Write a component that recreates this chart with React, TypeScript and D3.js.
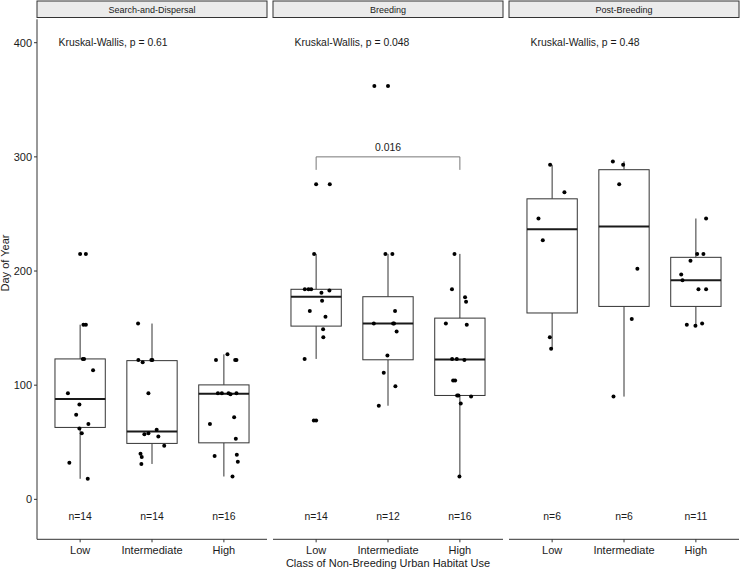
import React from 'react';
import * as d3 from 'd3';

// ---------- data ----------
const facets = ['Search-and-Dispersal', 'Breeding', 'Post-Breeding'];
const classes = ['Low', 'Intermediate', 'High'];
const kwLabels = ['Kruskal-Wallis, p = 0.61', 'Kruskal-Wallis, p = 0.048', 'Kruskal-Wallis, p = 0.48'];
const yTicks = [0, 100, 200, 300, 400];

// Search-and-Dispersal
const sdLow = [215, 153, 153, 123, 123, 113, 93, 83, 74, 66, 62, 58, 32, 18];
const sdLowJit = [0.08, 0.046, 0.08, 0.037, 0.055, 0.18, -0.17, -0.01, -0.055, 0.115, -0.01, 0.023, -0.15, 0.106];
const sdInt = [154, 122, 122, 122, 120, 93, 61, 57, 58, 55, 47, 40, 37, 31];
const sdIntJit = [-0.194, -0.19, -0.009, 0.005, -0.13, -0.05, 0.065, -0.106, -0.05, 0.088, 0.17, -0.16, -0.143, -0.148];
const sdHigh = [122, 127, 122, 122, 93, 93, 93, 92, 93, 72, 66, 53, 38, 39, 33, 20];
const sdHighJit = [-0.11, 0.05, 0.157, 0.175, -0.083, -0.028, 0.065, 0.092, 0.175, 0.143, -0.194, 0.166, -0.129, 0.18, 0.194, 0.12];

// Breeding
const brLow = [276, 215, 184, 184, 184, 183, 181, 174, 165, 160, 149, 142, 123, 69];
const brLowJit = [0.19, -0.028, -0.157, -0.106, -0.069, 0.185, 0.074, 0.083, -0.088, 0.13, 0.097, 0.1, -0.16, -0.032];
const brInt = [362, 215, 215, 165, 154, 154, 154, 147, 126, 111, 99, 82];
const brIntJit = [-0.19, -0.036, 0.061, 0.098, -0.197, 0.071, 0.084, 0.12, -0.008, -0.059, 0.103, -0.128];
const brHigh = [215, 184, 177, 173, 154, 153, 123, 123, 122, 104, 104, 91, 91, 90, 84, 20];
const brHighJit = [-0.075, -0.11, 0.072, 0.086, -0.195, 0.096, -0.108, -0.043, 0.063, -0.094, -0.066, -0.038, -0.02, 0.156, 0.012, -0.006];

// Post-Breeding
const pbLow = [293, 269, 246, 227, 142, 132];
const pbLowJit = [-0.028, 0.171, -0.19, -0.13, -0.032, -0.014];
const pbInt = [296, 293, 276, 202, 158, 90];
const pbIntJit = [-0.155, -0.012, -0.067, 0.186, 0.108, -0.146];
const pbHigh = [246, 215, 215, 209, 197, 192, 184, 184, 153, 152, 154];
const pbHighJit = [0.142, 0.018, 0.105, -0.075, -0.204, -0.186, 0.036, 0.142, -0.126, -0.006, 0.087];

const groupValues = [
  [sdLow, sdInt, sdHigh],
  [brLow, brInt, brHigh],
  [pbLow, pbInt, pbHigh],
];
const groupJitter = [
  [sdLowJit, sdIntJit, sdHighJit],
  [brLowJit, brIntJit, brHighJit],
  [pbLowJit, pbIntJit, pbHighJit],
];

// pairwise comparison (Breeding: Low vs High)
const bracketFacet = 1;
const bracketFrom = 0;
const bracketTo = 2;
const bracketY = 300;
const bracketLabel = '0.016';

// ---------- layout ----------
const W = 740;
const H = 570;
const plotLeft = 37;
const panelW = 230;
const panelStep = 236;
const panelTop = 19.3;
const panelBottom = 539.3;
const FONT = '"Liberation Sans", Arial, Helvetica, sans-serif';
const TXT = '#1a1a1a';

const y = d3.scaleLinear().domain([-35, 420.5]).range([panelBottom, panelTop]);

function boxStats(vals: number[]) {
  const s = [...vals].sort(d3.ascending);
  const q1 = d3.quantileSorted(s, 0.25) as number;
  const med = d3.quantileSorted(s, 0.5) as number;
  const q3 = d3.quantileSorted(s, 0.75) as number;
  const iqr = q3 - q1;
  const lo = q1 - 1.5 * iqr;
  const hi = q3 + 1.5 * iqr;
  const wLo = d3.min(s.filter((d) => d >= lo)) as number;
  const wHi = d3.max(s.filter((d) => d <= hi)) as number;
  const outliers = s.filter((d) => d < lo || d > hi);
  return { q1, med, q3, wLo, wHi, outliers };
}

export default function App() {
  return (
    <svg
      width={W}
      height={H}
      viewBox={`0 0 ${W} ${H}`}
      style={{ position: 'absolute', left: 0, top: 0, background: '#fff', fontFamily: FONT }}
    >
      <rect x={0} y={0} width={W} height={H} fill="#fff" />
      {facets.map((facet, fi) => {
        const left = plotLeft + fi * panelStep;
        const x = d3.scaleLinear().domain([0.4, 3.6]).range([left, left + panelW]);
        const boxHalf = x(1.35) - x(1);
        return (
          <g key={facet}>
            {/* strip */}
            <rect x={left} y={1} width={panelW} height={16.5} fill="#ebebeb" stroke="#333" strokeWidth={1} />
            <text x={left + panelW / 2} y={9.5} textAnchor="middle" dominantBaseline="central" fontSize={9} fill={TXT}>
              {facet}
            </text>
            {/* x axis */}
            <line x1={left} x2={left + panelW} y1={panelBottom} y2={panelBottom} stroke="#333" strokeWidth={1} />
            {classes.map((c, ci) => (
              <g key={c}>
                <line x1={x(ci + 1)} x2={x(ci + 1)} y1={panelBottom} y2={panelBottom + 3} stroke="#333" strokeWidth={1} />
                <text x={x(ci + 1)} y={554} textAnchor="middle" fontSize={11} fill={TXT}>
                  {c}
                </text>
              </g>
            ))}
            {/* boxplots */}
            {classes.map((c, ci) => {
              const vals = groupValues[fi][ci];
              const st = boxStats(vals);
              const cx = x(ci + 1);
              return (
                <g key={'box' + c}>
                  <line x1={cx} x2={cx} y1={y(st.q3)} y2={y(st.wHi)} stroke="#333" strokeWidth={1} />
                  <line x1={cx} x2={cx} y1={y(st.q1)} y2={y(st.wLo)} stroke="#333" strokeWidth={1} />
                  <rect
                    x={cx - boxHalf}
                    y={y(st.q3)}
                    width={boxHalf * 2}
                    height={y(st.q1) - y(st.q3)}
                    fill="#fff"
                    stroke="#333"
                    strokeWidth={1}
                  />
                  <line x1={cx - boxHalf} x2={cx + boxHalf} y1={y(st.med)} y2={y(st.med)} stroke="#1a1a1a" strokeWidth={2} />
                  {st.outliers.map((o, oi) => (
                    <circle key={'o' + oi} cx={cx} cy={y(o)} r={2} fill="#000" />
                  ))}
                </g>
              );
            })}
            {/* jittered points */}
            {classes.map((c, ci) =>
              groupValues[fi][ci].map((v, vi) => (
                <circle key={'p' + c + vi} cx={x(ci + 1 + groupJitter[fi][ci][vi])} cy={y(v)} r={2} fill="#000" />
              ))
            )}
            {/* n labels */}
            {classes.map((c, ci) => (
              <text key={'n' + c} x={x(ci + 1)} y={y(-15)} textAnchor="middle" dominantBaseline="central" fontSize={10.4} fill={TXT}>
                {'n=' + groupValues[fi][ci].length}
              </text>
            ))}
            {/* Kruskal-Wallis label */}
            <text x={x(0.7)} y={y(400)} dominantBaseline="central" fontSize={10.4} fill={TXT}>
              {kwLabels[fi]}
            </text>
            {/* bracket */}
            {fi === bracketFacet && (
              <g>
                <path
                  d={`M${x(bracketFrom + 1)},${y(bracketY) + 13} V${y(bracketY)} H${x(bracketTo + 1)} V${y(bracketY) + 13}`}
                  fill="none"
                  stroke="#777"
                  strokeWidth={1}
                />
                <text
                  x={(x(bracketFrom + 1) + x(bracketTo + 1)) / 2}
                  y={y(bracketY) - 5.5}
                  textAnchor="middle"
                  fontSize={10.4}
                  fill={TXT}
                >
                  {bracketLabel}
                </text>
              </g>
            )}
          </g>
        );
      })}
      {/* y axis */}
      <line x1={plotLeft} x2={plotLeft} y1={panelTop} y2={panelBottom} stroke="#333" strokeWidth={1} />
      {yTicks.map((t) => (
        <g key={t}>
          <line x1={plotLeft - 3} x2={plotLeft} y1={y(t)} y2={y(t)} stroke="#333" strokeWidth={1} />
          <text x={plotLeft - 5} y={y(t)} textAnchor="end" dominantBaseline="central" fontSize={11} fill={TXT}>
            {t}
          </text>
        </g>
      ))}
      <text transform={`translate(9,263) rotate(-90)`} textAnchor="middle" fontSize={11} fill={TXT}>
        Day of Year
      </text>
      <text x={plotLeft + (2 * panelStep + panelW) / 2} y={567} textAnchor="middle" fontSize={11} fill={TXT}>
        Class of Non-Breeding Urban Habitat Use
      </text>
    </svg>
  );
}
